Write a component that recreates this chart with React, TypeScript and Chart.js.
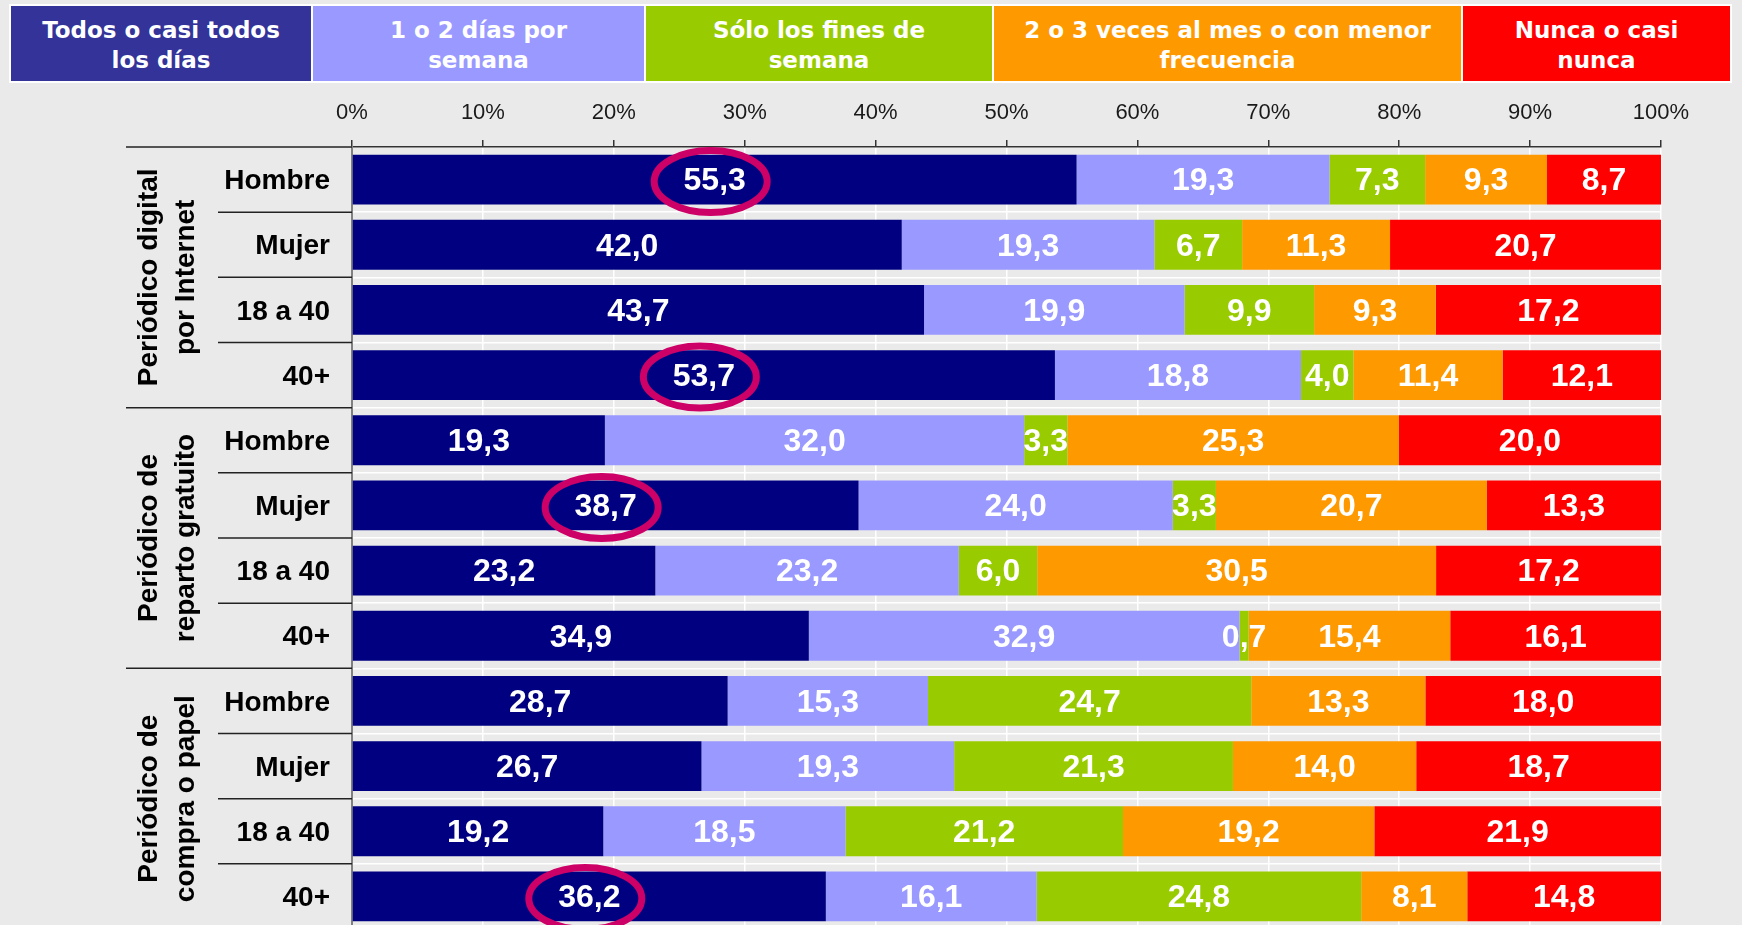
import React, { useEffect, useRef } from 'react';
import { Chart, registerables } from 'chart.js';

Chart.register(...registerables);

const FONT = "'Liberation Sans', Arial, sans-serif";
const LEGEND_FONT = "'DejaVu Sans', Verdana, sans-serif";

// ---- data ----
const seriesNames = [
  'Todos o casi todos\nlos días',
  '1 o 2 días por\nsemana',
  'Sólo los fines de\nsemana',
  '2 o 3 veces al mes o con menor\nfrecuencia',
  'Nunca o casi\nnunca',
];
const groupTitles = [
  ['Periódico digital', 'por Internet'],
  ['Periódico de', 'reparto gratuito'],
  ['Periódico de', 'compra o papel'],
];
const categories = [
  'Hombre', 'Mujer', '18 a 40', '40+',
  'Hombre', 'Mujer', '18 a 40', '40+',
  'Hombre', 'Mujer', '18 a 40', '40+',
];
const todosDias = [55.3, 42.0, 43.7, 53.7, 19.3, 38.7, 23.2, 34.9, 28.7, 26.7, 19.2, 36.2];
const unoDosDias = [19.3, 19.3, 19.9, 18.8, 32.0, 24.0, 23.2, 32.9, 15.3, 19.3, 18.5, 16.1];
const finesSemana = [7.3, 6.7, 9.9, 4.0, 3.3, 3.3, 6.0, 0.7, 24.7, 21.3, 21.2, 24.8];
const dosTresMes = [9.3, 11.3, 9.3, 11.4, 25.3, 20.7, 30.5, 15.4, 13.3, 14.0, 19.2, 8.1];
const nuncaCasi = [8.7, 20.7, 17.2, 12.1, 20.0, 13.3, 17.2, 16.1, 18.0, 18.7, 21.9, 14.8];
const xTickValues = [0, 10, 20, 30, 40, 50, 60, 70, 80, 90, 100];
const highlightedRows = [0, 3, 5, 11]; // rows whose first-series value is circled
const highlightedSeries = 0;

// ---- styles ----
const barColors = ['#000080', '#9999FF', '#99CC00', '#FF9900', '#FF0000'];
const legendColors = ['#333399', '#9999FF', '#99CC00', '#FF9900', '#FF0000'];
const legendWidths = [300, 331, 346, 467, 267];
const BG = '#eaeaea';

const rawSeries = [todosDias, unoDosDias, finesSemana, dosTresMes, nuncaCasi];

const fmt = (v: number) => v.toFixed(1).replace('.', ',');

const overlayPlugin = {
  id: 'overlay',
  afterDatasetsDraw(chart: any) {
    const ctx = chart.ctx;
    ctx.save();
    ctx.fillStyle = '#ffffff';
    ctx.font = `bold 32px ${FONT}`;
    ctx.textAlign = 'center';
    ctx.textBaseline = 'middle';
    chart.data.datasets.forEach((_ds: any, di: number) => {
      const meta = chart.getDatasetMeta(di);
      meta.data.forEach((el: any, i: number) => {
        const p = el.getProps(['x', 'base', 'y'], true);
        ctx.fillText(fmt(rawSeries[di][i]), (p.x + p.base) / 2, p.y + 2);
      });
    });
    // ellipses
    const meta = chart.getDatasetMeta(highlightedSeries);
    ctx.strokeStyle = '#CC0066';
    ctx.lineWidth = 7;
    highlightedRows.forEach((r) => {
      const el = meta.data[r];
      const p = el.getProps(['x', 'base', 'y'], true);
      const cx = (p.x + p.base) / 2 - 4;
      const cy = p.y + 2;
      ctx.beginPath();
      ctx.ellipse(cx, cy, 56.5, 31, 0, 0, Math.PI * 2);
      ctx.stroke();
    });
    ctx.restore();
  },
  afterDraw(chart: any) {
    const ctx = chart.ctx;
    const y = chart.scales.y;
    const area = chart.chartArea;
    const n = categories.length;
    const pix = (i: number) => y.getPixelForValue(i);
    const step = n > 1 ? pix(1) - pix(0) : 0;
    ctx.save();
    ctx.strokeStyle = '#222';
    ctx.lineWidth = 1.5;
    for (let i = 0; i < n; i++) {
      const by = pix(i) - step / 2;
      const isGroup = i % 4 === 0;
      ctx.beginPath();
      ctx.moveTo(isGroup ? 126 : 218, by);
      ctx.lineTo(area.left, by);
      ctx.stroke();
    }
    // group titles
    ctx.fillStyle = '#000';
    ctx.font = `bold 28px ${FONT}`;
    ctx.textAlign = 'center';
    ctx.textBaseline = 'alphabetic';
    groupTitles.forEach((lines, g) => {
      const cy = (pix(g * 4) + pix(g * 4 + 3)) / 2;
      ctx.save();
      ctx.translate(0, cy);
      ctx.rotate(-Math.PI / 2);
      lines.forEach((line, li) => {
        ctx.fillText(line, 0, 157 + li * 37);
      });
      ctx.restore();
    });
    ctx.restore();
  },
};

export default function App() {
  const ref = useRef<HTMLCanvasElement | null>(null);

  useEffect(() => {
    if (!ref.current) return;
    const totals = categories.map((_, i) => rawSeries.reduce((s, arr) => s + arr[i], 0));
    const chart = new Chart(ref.current, {
      type: 'bar',
      data: {
        labels: categories,
        datasets: rawSeries.map((arr, di) => ({
          label: seriesNames[di].replace('\n', ' '),
          data: arr.map((v, i) => (v / totals[i]) * 100),
          backgroundColor: barColors[di],
          borderWidth: 0,
          barPercentage: 0.765,
          categoryPercentage: 1,
        })),
      },
      options: {
        indexAxis: 'y',
        responsive: false,
        animation: false,
        layout: { padding: { top: 0, left: 0, right: 81, bottom: 0 } },
        plugins: { legend: { display: false }, tooltip: { enabled: false } },
        scales: {
          x: {
            position: 'top',
            stacked: true,
            min: 0,
            max: 100,
            afterBuildTicks: (s: any) => {
              s.ticks = xTickValues.map((v) => ({ value: v }));
            },
            afterFit: (s: any) => {
              s.height = 147;
            },
            ticks: {
              callback: (v: any) => `${v}%`,
              font: { family: FONT, size: 22 },
              color: '#1a1a1a',
              padding: 14,
              maxRotation: 0,
            },
            grid: { color: '#ffffff', lineWidth: 1.5, tickColor: '#333', tickLength: 7 },
            border: { color: '#333', width: 1.5 },
          },
          y: {
            stacked: true,
            afterFit: (s: any) => {
              s.width = 352;
              s.paddingTop = 0;
              s.paddingBottom = 0;
            },
            ticks: {
              font: { family: FONT, size: 28, weight: 'bold' },
              color: '#000',
              padding: 22,
              labelOffset: 2,
            },
            grid: { color: '#ffffff', lineWidth: 1.5, drawTicks: false, offset: true },
            border: { color: '#808080', width: 2 },
          },
        },
      } as any,
      plugins: [overlayPlugin],
    });
    return () => chart.destroy();
  }, []);

  return (
    <div
      style={{
        position: 'fixed',
        left: 0,
        top: 0,
        width: 1742,
        height: 925,
        overflow: 'hidden',
        background: BG,
      }}
    >
      <canvas ref={ref} width={1742} height={929} style={{ position: 'absolute', left: 0, top: 0 }} />
      <div
        style={{
          position: 'absolute',
          left: 9,
          top: 4,
          background: '#ffffff',
          padding: 2,
          display: 'flex',
          gap: 2,
        }}
      >
        {seriesNames.map((name, i) => (
          <div
            key={i}
            style={{
              width: legendWidths[i],
              height: 75,
              paddingTop: 3,
              boxSizing: 'border-box',
              background: legendColors[i],
              color: '#ffffff',
              fontFamily: LEGEND_FONT,
              fontWeight: 'bold',
              fontSize: 23,
              lineHeight: '30px',
              whiteSpace: 'pre-line',
              textAlign: 'center',
              display: 'flex',
              alignItems: 'center',
              justifyContent: 'center',
            }}
          >
            {name}
          </div>
        ))}
      </div>
    </div>
  );
}
